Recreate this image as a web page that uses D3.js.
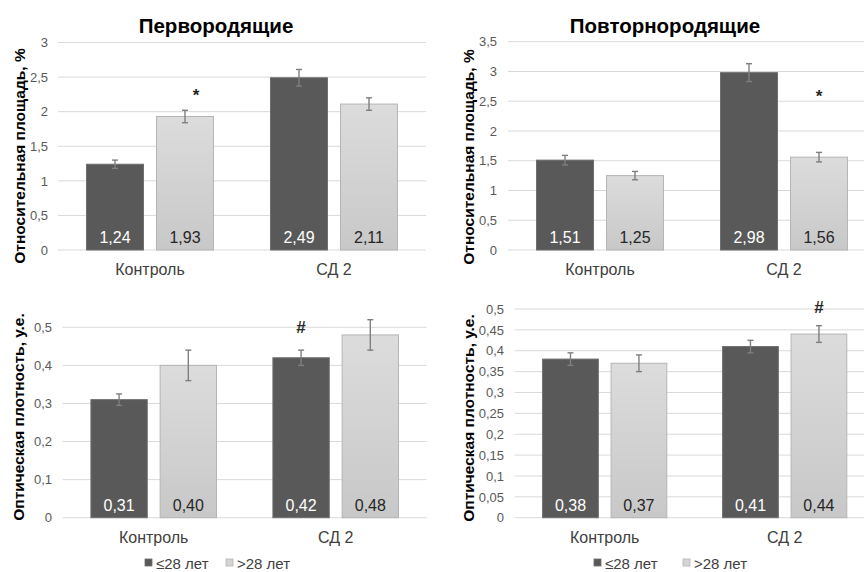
<!DOCTYPE html>
<html>
<head>
<meta charset="utf-8">
<script src="https://cdn.jsdelivr.net/npm/d3@7"></script>
<style>
  body { margin: 0; background: #fff; }
  svg { display: block; font-family: "Liberation Sans", Arial, sans-serif; }
</style>
</head>
<body>
<svg id="chart" width="864" height="572"></svg>
<script>
// categories and series
var categories = ["Контроль", "СД 2"];
var seriesNames = ["≤28 лет", ">28 лет"];

// relative area, primiparous (per category)
var areaPrimiYoung = [1.24, 2.49];
var areaPrimiOld = [1.93, 2.11];
var areaPrimiYoungErr = [0.06, 0.12];
var areaPrimiOldErr = [0.09, 0.09];

// relative area, multiparous
var areaMultiYoung = [1.51, 2.98];
var areaMultiOld = [1.25, 1.56];
var areaMultiYoungErr = [0.08, 0.15];
var areaMultiOldErr = [0.07, 0.08];

// optical density, primiparous
var densPrimiYoung = [0.31, 0.42];
var densPrimiOld = [0.40, 0.48];
var densPrimiYoungErr = [0.015, 0.02];
var densPrimiOldErr = [0.04, 0.04];

// optical density, multiparous
var densMultiYoung = [0.38, 0.41];
var densMultiOld = [0.37, 0.44];
var densMultiYoungErr = [0.015, 0.015];
var densMultiOldErr = [0.02, 0.02];

// significance marks: category index, series index, value where it sits
var marksPrimiArea = [{cat: 0, ser: 1, sym: "*", at: 2.24}];
var marksMultiArea = [{cat: 1, ser: 1, sym: "*", at: 2.58}];
var marksPrimiDens = [{cat: 1, ser: 0, sym: "#", at: 0.5}];
var marksMultiDens = [{cat: 1, ser: 1, sym: "#", at: 0.505}];

// y ticks
var ticksArea3 = [0, 0.5, 1, 1.5, 2, 2.5, 3];
var ticksArea35 = [0, 0.5, 1, 1.5, 2, 2.5, 3, 3.5];
var ticksDens1 = [0, 0.1, 0.2, 0.3, 0.4, 0.5];
var ticksDens05 = [0, 0.05, 0.1, 0.15, 0.2, 0.25, 0.3, 0.35, 0.4, 0.45, 0.5];

var ru = d3.formatLocale({decimal: ",", thousands: " ", grouping: [3], currency: ["", ""]});
var fmtTick = ru.format("~r");
var fmtVal = ru.format(".2f");

var svg = d3.select("#chart");
svg.append("rect").attr("width", 864).attr("height", 572).attr("fill", "#fff");

var defs = svg.append("defs");
var grad = defs.append("linearGradient").attr("id", "lightGrad")
    .attr("x1", 0).attr("y1", 0).attr("x2", 0).attr("y2", 1);
grad.append("stop").attr("offset", "0%").attr("stop-color", "#dcdcdc");
grad.append("stop").attr("offset", "100%").attr("stop-color", "#c8c8c8");

function drawPanel(p) {
    var g = svg.append("g");

    var y = d3.scaleLinear().domain([0, p.max]).range([p.bottom, p.top]);
    var x0 = d3.scaleBand().domain(categories).range([p.left, p.left + p.width]);
    var groupW = x0.bandwidth() * 0.69;
    var x1 = d3.scaleBand().domain(seriesNames).range([0, groupW]).paddingInner(0.186);
    var groupOff = (x0.bandwidth() - groupW) / 2;

    // gridlines
    g.selectAll("line.grid").data(p.ticks).enter().append("line")
        .attr("x1", p.left).attr("x2", p.left + p.width)
        .attr("y1", function (d) { return y(d); }).attr("y2", function (d) { return y(d); })
        .attr("stroke", "#d9d9d9").attr("stroke-width", 1);

    // y axis labels
    var yAxis = d3.axisLeft(y).tickValues(p.ticks).tickFormat(fmtTick).tickSize(0).tickPadding(0);
    var ax = g.append("g").attr("transform", "translate(" + p.tickX + ",0)").call(yAxis);
    ax.select(".domain").remove();
    ax.selectAll("text").attr("font-size", 13).attr("fill", "#595959")
        .attr("font-family", "Liberation Sans, Arial, sans-serif");

    var rows = [];
    categories.forEach(function (c, ci) {
        rows.push({cat: c, ser: seriesNames[0], si: 0, v: p.young[ci], e: p.youngErr[ci]});
        rows.push({cat: c, ser: seriesNames[1], si: 1, v: p.old[ci], e: p.oldErr[ci]});
    });
    function bx(d) { return x0(d.cat) + groupOff + x1(d.ser); }

    g.selectAll("rect.bar").data(rows).enter().append("rect")
        .attr("x", bx)
        .attr("y", function (d) { return y(d.v); })
        .attr("width", x1.bandwidth())
        .attr("height", function (d) { return y(0) - y(d.v); })
        .attr("fill", function (d) { return d.si === 0 ? "#595959" : "url(#lightGrad)"; })
        .attr("stroke", function (d) { return d.si === 0 ? "#6e6e6e" : "#b5b5b5"; })
        .attr("stroke-width", 1);

    // error bars
    var eb = g.selectAll("g.err").data(rows).enter().append("g")
        .attr("stroke", "#7f7f7f").attr("stroke-width", 1.4);
    eb.append("line")
        .attr("x1", function (d) { return bx(d) + x1.bandwidth() / 2; })
        .attr("x2", function (d) { return bx(d) + x1.bandwidth() / 2; })
        .attr("y1", function (d) { return y(d.v + d.e); })
        .attr("y2", function (d) { return y(d.v - d.e); });
    [1, -1].forEach(function (s) {
        eb.append("line")
            .attr("x1", function (d) { return bx(d) + x1.bandwidth() / 2 - 3; })
            .attr("x2", function (d) { return bx(d) + x1.bandwidth() / 2 + 3; })
            .attr("y1", function (d) { return y(d.v + s * d.e); })
            .attr("y2", function (d) { return y(d.v + s * d.e); });
    });

    // value labels
    g.selectAll("text.val").data(rows).enter().append("text")
        .attr("x", function (d) { return bx(d) + x1.bandwidth() / 2; })
        .attr("y", y(0) - 7)
        .attr("text-anchor", "middle").attr("font-size", 16)
        .attr("fill", function (d) { return d.si === 0 ? "#ffffff" : "#262626"; })
        .text(function (d) { return fmtVal(d.v); });

    // category labels
    g.selectAll("text.cat").data(categories).enter().append("text")
        .attr("x", function (d) { return x0(d) + x0.bandwidth() / 2; })
        .attr("y", y(0) + 25)
        .attr("text-anchor", "middle").attr("font-size", 16).attr("fill", "#404040")
        .text(function (d) { return d; });

    // significance marks
    g.selectAll("text.mark").data(p.marks).enter().append("text")
        .attr("x", function (d) {
            return x0(categories[d.cat]) + groupOff + x1(seriesNames[d.ser]) + x1.bandwidth() / 2 + (p.markDx || 0);
        })
        .attr("y", function (d) { return y(d.at); })
        .attr("dy", "0.35em")
        .attr("text-anchor", "middle").attr("font-size", 17).attr("font-weight", "bold")
        .attr("fill", "#262626")
        .text(function (d) { return d.sym; });

    // y axis title
    g.append("text")
        .attr("transform", "translate(" + p.labelX + "," + p.labelY + ") rotate(-90)")
        .attr("text-anchor", "middle").attr("font-size", 15.5).attr("font-weight", "bold")
        .attr("fill", "#000")
        .text(p.yLabel);

    if (p.title) {
        g.append("text").attr("x", p.titleX).attr("y", 33)
            .attr("text-anchor", "middle").attr("font-size", 20.5).attr("font-weight", "bold")
            .attr("fill", "#000").text(p.title);
    }

    if (p.legend) {
        var lg = g.append("g");
        seriesNames.forEach(function (s, i) {
            var lx = p.legend[i];
            lg.append("rect").attr("x", lx).attr("y", 559).attr("width", 7).attr("height", 7)
                .attr("fill", i === 0 ? "#595959" : "#d4d4d4")
                .attr("stroke", i === 0 ? "#6e6e6e" : "#b5b5b5").attr("stroke-width", 0.8);
            lg.append("text").attr("x", lx + 11).attr("y", 569).attr("font-size", 15)
                .attr("fill", "#404040").text(s);
        });
    }
}

drawPanel({
    title: "Первородящие", titleX: 216,
    yLabel: "Относительная площадь, %", labelX: 25, labelY: 156,
    left: 58, width: 368, top: 42.5, bottom: 250, max: 3, ticks: ticksArea3, tickX: 48,
    young: areaPrimiYoung, old: areaPrimiOld, youngErr: areaPrimiYoungErr, oldErr: areaPrimiOldErr,
    marks: marksPrimiArea, markDx: 11
});

drawPanel({
    title: "Повторнородящие", titleX: 665,
    yLabel: "Относительная площадь, %", labelX: 474, labelY: 157,
    left: 508, width: 368, top: 41.7, bottom: 250, max: 3.5, ticks: ticksArea35, tickX: 497,
    young: areaMultiYoung, old: areaMultiOld, youngErr: areaMultiYoungErr, oldErr: areaMultiOldErr,
    marks: marksMultiArea
});

drawPanel({
    yLabel: "Оптическая плотность, у.е.", labelX: 24, labelY: 417,
    left: 62.7, width: 364, top: 327.3, bottom: 517.7, max: 0.5, ticks: ticksDens1, tickX: 52,
    young: densPrimiYoung, old: densPrimiOld, youngErr: densPrimiYoungErr, oldErr: densPrimiOldErr,
    marks: marksPrimiDens, legend: [145, 226]
});

drawPanel({
    yLabel: "Оптическая плотность, у.е.", labelX: 474, labelY: 418,
    left: 514.7, width: 360, top: 309, bottom: 517.7, max: 0.5, ticks: ticksDens05, tickX: 504,
    young: densMultiYoung, old: densMultiOld, youngErr: densMultiYoungErr, oldErr: densMultiOldErr,
    marks: marksMultiDens, legend: [594, 683]
});
</script>
</body>
</html>
